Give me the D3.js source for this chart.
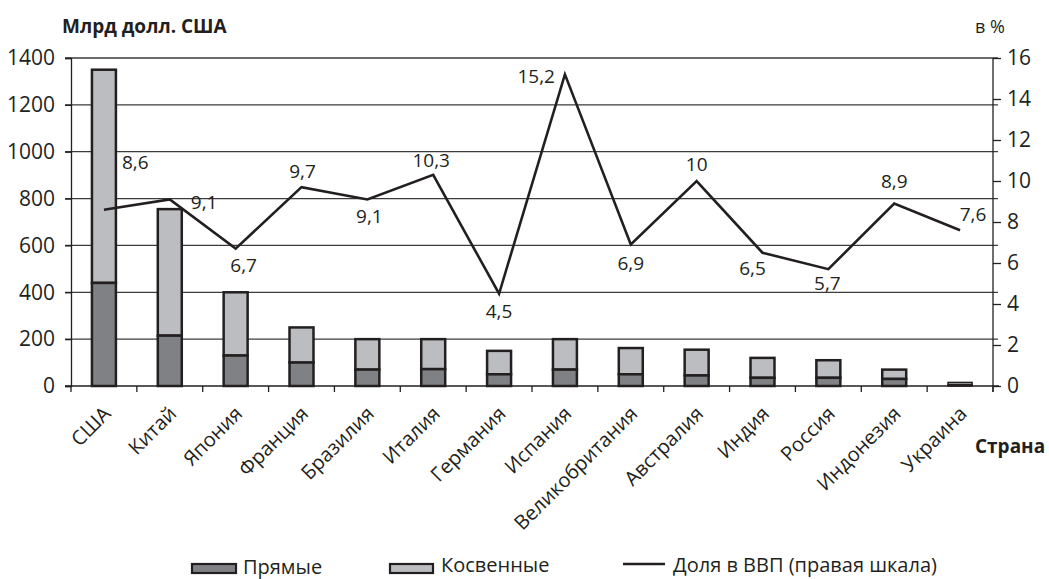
<!DOCTYPE html>
<html><head><meta charset="utf-8">
<script src="https://cdn.jsdelivr.net/npm/d3@7"></script>
<style>
body{margin:0;background:#fff;}
text{font-family:"Open Sans",sans-serif;fill:#231f20;}
</style></head>
<body><svg id="c" width="1049" height="579"></svg>
<script>
const categories = ["США","Китай","Япония","Франция","Бразилия","Италия","Германия","Испания","Великобритания","Австралия","Индия","Россия","Индонезия","Украина"];
const direct   = [440, 215, 130, 100, 70, 72, 50, 70, 50, 45, 35, 35, 30, 5];
const indirect = [910, 540, 270, 150, 130, 128, 100, 130, 112, 110, 85, 75, 40, 10];
const gdpShare = [8.6, 9.1, 6.7, 9.7, 9.1, 10.3, 4.5, 15.2, 6.9, 10, 6.5, 5.7, 8.9, 7.6];
const leftTicks = [0,200,400,600,800,1000,1200,1400];
const rightTicks = [0,2,4,6,8,10,12,14,16];
const seriesNames = ["Прямые","Косвенные","Доля в ВВП (правая шкала)"];
// label placement (style): anchor, dx, dy to label centre
const labelPlace = [["start",18,-47],["start",21,3],["middle",8,17],["middle",1,-16],["middle",2,17],["middle",-2,-15],["middle",0,18],["end",-10,2],["middle",0,19],["middle",0,-17],["middle",-10,16],["middle",-1,14],["middle",0,-22],["middle",13,-16]];

const ink = "#231f20", darkFill = "#808184", lightFill = "#bcbdc0";
const L = 71, R = 993, T = 58, B = 386;
const svg = d3.select("#c");

const x = d3.scaleBand().domain(categories).range([L, R]).paddingInner(0.636).paddingOuter(0.318);
const yL = d3.scaleLinear().domain([0,1400]).range([B, T]);
const yR = d3.scaleLinear().domain([0,16]).range([B, T]);

// gridlines
svg.append("g").selectAll("line").data(leftTicks.filter(d=>d>0)).join("line")
  .attr("x1", L-6).attr("x2", R+5).attr("y1", d=>yL(d)).attr("y2", d=>yL(d))
  .attr("stroke", "#3c3c3c").attr("stroke-width", 1.3);

// left axis
const gl = svg.append("g").attr("transform", `translate(${L},0)`)
  .call(d3.axisLeft(yL).tickValues(leftTicks).tickSize(6).tickPadding(10).tickFormat(d3.format("d")));
gl.select(".domain").attr("stroke", ink).attr("stroke-width", 1.3);
gl.selectAll(".tick line").attr("stroke", ink).attr("stroke-width", 1.3);
gl.selectAll("text").style("font-size","21px").attr("fill", ink);

// right axis
const gr = svg.append("g").attr("transform", `translate(${R},0)`)
  .call(d3.axisRight(yR).tickValues(rightTicks).tickSize(8).tickPadding(6));
gr.select(".domain").attr("stroke", ink).attr("stroke-width", 1.3).attr("d", `M0,${T}V${B+6}`);
gr.selectAll(".tick line").attr("stroke", ink).attr("stroke-width", 1.3);
gr.selectAll("text").style("font-size","21px").attr("fill", ink);

// bottom axis
const bounds = d3.range(categories.length+1).map(i => L + x.step()*i);
svg.append("line").attr("x1", L-6).attr("x2", R+6).attr("y1", B).attr("y2", B).attr("stroke", ink).attr("stroke-width", 1.3);
svg.append("g").selectAll("line").data(bounds).join("line")
  .attr("x1", d=>d).attr("x2", d=>d).attr("y1", B).attr("y2", B+6).attr("stroke", ink).attr("stroke-width", 1.3);
svg.append("g").selectAll("text").data(categories).join("text")
  .attr("transform", d => `translate(${x(d)+x.bandwidth()/2+8},${B+29}) rotate(-45)`)
  .attr("text-anchor","end").style("font-size","20px").text(d=>d);

// bars
const bars = svg.append("g");
categories.forEach((c,i) => {
  const tiny = (yL(0) - yL(direct[i]+indirect[i])) < 8;
  const sw = tiny ? 1.6 : 2.5;
  bars.append("rect").attr("x", x(c)).attr("width", x.bandwidth())
    .attr("y", yL(direct[i]+indirect[i])).attr("height", yL(direct[i]) - yL(direct[i]+indirect[i]))
    .attr("fill", lightFill).attr("stroke", ink).attr("stroke-width", sw);
  bars.append("rect").attr("x", x(c)).attr("width", x.bandwidth())
    .attr("y", yL(direct[i])).attr("height", yL(0) - yL(direct[i]))
    .attr("fill", darkFill).attr("stroke", ink).attr("stroke-width", sw);
});

// line
const cx = c => x(c) + x.bandwidth()/2;
svg.append("path").datum(gdpShare)
  .attr("d", d3.line().x((d,i)=>cx(categories[i])).y(d=>yR(d)))
  .attr("fill","none").attr("stroke", ink).attr("stroke-width", 2.6).attr("stroke-linejoin","miter");
svg.append("g").selectAll("text").data(gdpShare).join("text")
  .attr("x", (d,i)=>cx(categories[i]) + labelPlace[i][1])
  .attr("y", (d,i)=>yR(d) + labelPlace[i][2])
  .attr("dy","0.35em").attr("text-anchor",(d,i)=>labelPlace[i][0])
  .style("font-size","19px").text(d => String(d).replace(".", ","));

// titles
svg.append("text").attr("x", 62).attr("y", 33).style("font-size","19px").style("font-weight","bold").text("Млрд долл. США");
svg.append("text").attr("x", 1005).attr("y", 33).attr("text-anchor","end").style("font-size","18px").text("в %");
svg.append("text").attr("x", 975).attr("y", 453).style("font-size","19px").style("font-weight","bold").text("Страна");

// legend
const lg = svg.append("g");
lg.append("rect").attr("x",192).attr("y",564).attr("width",44).attr("height",9).attr("fill",darkFill).attr("stroke",ink).attr("stroke-width",2.2);
lg.append("text").attr("x",243).attr("y",574).style("font-size","20px").text(seriesNames[0]);
lg.append("rect").attr("x",390).attr("y",564).attr("width",43).attr("height",9).attr("fill",lightFill).attr("stroke",ink).attr("stroke-width",2.2);
lg.append("text").attr("x",441).attr("y",572).style("font-size","20px").text(seriesNames[1]);
lg.append("line").attr("x1",623).attr("x2",665).attr("y1",564).attr("y2",564).attr("stroke",ink).attr("stroke-width",2.5);
lg.append("text").attr("x",673).attr("y",572).style("font-size","20px").text(seriesNames[2]);
</script></body></html>
